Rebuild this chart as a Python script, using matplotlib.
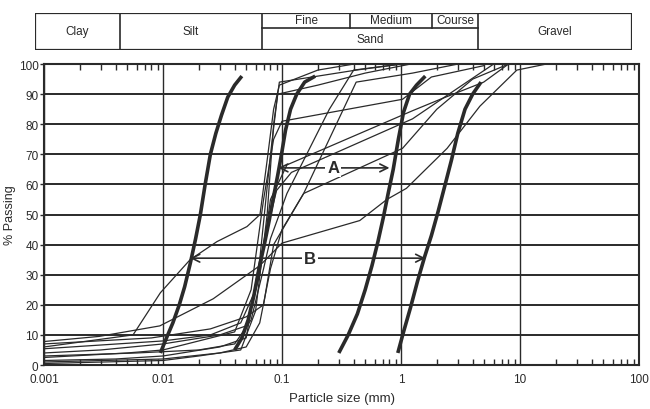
import matplotlib
matplotlib.use("Agg")
import matplotlib.pyplot as plt
from matplotlib.ticker import LogLocator, FixedLocator, NullFormatter

plt.rcParams['font.family'] = ['Liberation Sans', 'DejaVu Sans']

INK = '#2a2a2a'

# header table (soil classes)
top_cells = ['Fine', 'Medium', 'Course']
main_cells = ['Clay', 'Silt', 'Sand', 'Gravel']

# axis ticks
y_ticks = [0, 10, 20, 30, 40, 50, 60, 70, 80, 90, 100]
x_ticks = [0.001, 0.01, 0.1, 1, 10, 100]
x_tick_labels = ['0.001', '0.01', '0.1', '1', '10', '100']

# thick envelope curves (particle size mm, % passing)
k1_x = [0.0095, 0.0107, 0.0121, 0.0137, 0.0152, 0.0170, 0.0188, 0.0206, 0.0226,
        0.0250, 0.0278, 0.0310, 0.0350, 0.0400, 0.0460]
k1_y = [4, 9, 14, 20, 26, 34, 42, 50, 60, 70, 77, 83, 89, 93, 96]
k2_x = [0.040, 0.046, 0.052, 0.058, 0.064, 0.071, 0.078, 0.085, 0.092, 0.099,
        0.107, 0.118, 0.133, 0.155, 0.19]
k2_y = [5, 9, 15, 23, 32, 40, 48, 56, 63, 70, 78, 85, 90, 94, 96]
k3_x = [0.30, 0.36, 0.43, 0.50, 0.57, 0.64, 0.71, 0.78, 0.86, 0.95, 1.05, 1.18, 1.35, 1.6]
k3_y = [4, 10, 17, 25, 33, 41, 49, 57, 65, 75, 84, 90, 93, 96]
k4_x = [0.94, 1.05, 1.2, 1.38, 1.58, 1.8, 2.05, 2.35, 2.65, 3.0, 3.45, 4.0, 4.7]
k4_y = [4, 11, 19, 28, 36, 43, 51, 60, 68, 77, 85, 90, 94]

# thin sample curves
t1_x = [0.001, 0.0056, 0.0095, 0.0169, 0.0284, 0.0508, 0.0653, 0.075, 0.085, 0.095, 0.2, 0.4]
t1_y = [6, 10, 24, 35, 41, 46, 50, 68, 85, 93, 98, 100]
t2_x = [0.001, 0.0029, 0.0094, 0.0264, 0.065, 0.1, 0.45, 0.76, 1.11, 2.44, 4.6, 9.4, 16.6]
t2_y = [7.8, 9.5, 13, 22, 33, 40.5, 48, 55, 58.7, 72, 86, 98, 100]
l1_x = [0.001, 0.01, 0.02, 0.045, 0.06, 0.075, 0.085, 0.095, 0.2, 0.42, 1.0]
l1_y = [0.5, 1.5, 3, 5, 18, 50, 80, 94, 96, 98, 100]
l2_x = [0.001, 0.004, 0.01, 0.03, 0.05, 0.065, 0.08, 0.092, 0.2, 0.5, 1.2]
l2_y = [1.5, 2, 3, 6, 9, 35, 70, 90, 93, 97, 100]
l3_x = [0.001, 0.005, 0.01, 0.02, 0.04, 0.055, 0.07, 0.085, 0.1, 1.03, 1.8, 5.0]
l3_y = [2.5, 4, 5, 8, 11, 25, 55, 75, 81, 88.3, 95.7, 99.5]
l4_x = [0.001, 0.003, 0.01, 0.03, 0.05, 0.065, 0.08, 0.11, 1.25, 2.2, 4.95, 8.0]
l4_y = [4, 5, 7, 10, 13, 30, 55, 66.5, 84.5, 88.5, 94, 100]
l5_x = [0.001, 0.01, 0.025, 0.045, 0.06, 0.075, 0.09, 0.12, 1.25, 3.0, 6.0]
l5_y = [5.4, 8, 10, 14, 25, 45, 58, 64, 81.8, 92, 100]
l6_x = [0.001, 0.006, 0.02, 0.04, 0.055, 0.07, 0.08, 0.11, 0.25, 0.4, 1.0]
l6_y = [3, 4, 5, 7, 15, 32, 42, 57, 85, 98, 100]
l7_x = [0.001, 0.01, 0.03, 0.05, 0.065, 0.08, 0.1, 0.152, 0.42, 1.25, 3.0]
l7_y = [1, 2, 4, 6, 14, 32, 45, 57, 94, 97, 100]
l8_x = [0.001, 0.008, 0.025, 0.05, 0.07, 0.085, 0.152, 1.03, 2.0, 4.0, 8.0]
l8_y = [7, 9, 12, 16, 20, 40, 57, 72, 85, 95, 100]

thick = [(k1_x, k1_y), (k2_x, k2_y), (k3_x, k3_y), (k4_x, k4_y)]
thin = [(t1_x, t1_y), (t2_x, t2_y), (l1_x, l1_y), (l2_x, l2_y), (l3_x, l3_y),
        (l4_x, l4_y), (l5_x, l5_y), (l6_x, l6_y), (l7_x, l7_y), (l8_x, l8_y)]

# range arrows: (left x, right x, y, label x)
arrow_a = (0.093, 0.80, 65.5, 0.27)
arrow_b = (0.0169, 1.6, 35.5, 0.172)

fig = plt.figure(figsize=(6.5, 4.1), dpi=100)

# ---- header table ----
hx = fig.add_axes([0.0538, 0.8756, 0.9185, 0.0903])
hx.set_xlim(0, 1)
hx.set_ylim(0, 1)
hx.axis('off')
edges = [0, 0.142, 0.380, 0.742, 1]
sub_edges = [0.380, 0.528, 0.665, 0.742]
mid = 0.595
hx.add_patch(plt.Rectangle((0, 0), 1, 1, fill=False, ec=INK, lw=1.6))
for e in edges[1:-1]:
    hx.plot([e, e], [0, 1], color=INK, lw=1.2)
for e in sub_edges[1:-1]:
    hx.plot([e, e], [mid, 1], color=INK, lw=1.2)
hx.plot([sub_edges[0], sub_edges[-1]], [mid, mid], color=INK, lw=1.2)
for i, name in enumerate(main_cells):
    cx = (edges[i] + edges[i + 1]) / 2
    cy = 0.3 if name == 'Sand' else 0.5
    hx.text(cx, cy, name, ha='center', va='center', fontsize=8.5, color=INK)
for i, name in enumerate(top_cells):
    cx = (sub_edges[i] + sub_edges[i + 1]) / 2
    hx.text(cx, 0.8, name, ha='center', va='center', fontsize=8.5, color=INK)

# ---- main chart ----
ax = fig.add_axes([0.0677, 0.1073, 0.9154, 0.734])
ax.set_xscale('log')
ax.set_xlim(0.001, 100)
ax.set_ylim(0, 100)

for x, y in thin:
    ax.plot(x, y, color=INK, lw=0.9, zorder=3)
for x, y in thick:
    ax.plot(x, y, color=INK, lw=2.6, solid_capstyle='butt', solid_joinstyle='round', zorder=4)

for xl, xr, yv, xt in (arrow_a, arrow_b):
    ax.annotate('', xy=(xl, yv), xytext=(xr, yv),
                arrowprops=dict(arrowstyle='<->', color=INK, lw=1.2,
                                mutation_scale=14, shrinkA=0, shrinkB=0), zorder=5)
ax.text(arrow_a[3], arrow_a[2], 'A', ha='center', va='center', fontsize=12,
        fontweight='bold', color=INK, zorder=6,
        bbox=dict(fc='white', ec='none', pad=1.5))
ax.text(arrow_b[3], arrow_b[2], 'B', ha='center', va='center', fontsize=12,
        fontweight='bold', color=INK, zorder=6,
        bbox=dict(fc='white', ec='none', pad=1.5))

ax.yaxis.set_major_locator(FixedLocator(y_ticks))
ax.xaxis.set_major_locator(FixedLocator(x_ticks))
ax.set_xticklabels(x_tick_labels)
ax.xaxis.set_minor_locator(LogLocator(base=10, subs=range(2, 10)))
ax.xaxis.set_minor_formatter(NullFormatter())
ax.yaxis.grid(True, color=INK, lw=1.4)
ax.xaxis.grid(True, which='major', color=INK, lw=1.0)
ax.set_axisbelow(True)

ax.tick_params(axis='x', which='major', length=0, labelsize=8.5, colors=INK, pad=6)
ax.tick_params(axis='x', which='minor', direction='in', top=True, bottom=True,
               length=4, width=1, colors=INK)
ax.tick_params(axis='y', which='major', direction='out', length=3, width=1,
               labelsize=8.5, colors=INK, pad=1)
for s in ax.spines.values():
    s.set_color(INK)
    s.set_linewidth(1.5)

ax.set_ylabel('% Passing', fontsize=9, color=INK, labelpad=2)
ax.set_xlabel('Particle size (mm)', fontsize=9.5, color=INK, labelpad=5)

fig.savefig('out.png', dpi=100, facecolor='white')
